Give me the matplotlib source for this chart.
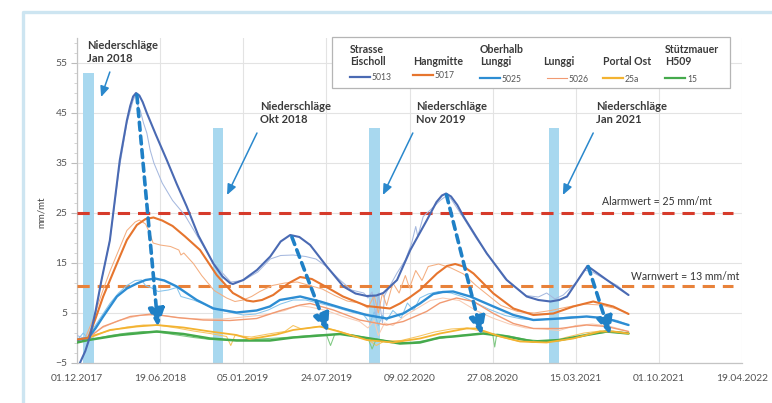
import matplotlib
matplotlib.use('Agg')
import matplotlib.pyplot as plt
from matplotlib.lines import Line2D
from matplotlib.patches import Rectangle

plt.rcParams['font.family'] = ['Lato', 'DejaVu Sans']

W, H = 772, 403

# ---------------- data ----------------
x_tick_days = [0, 200, 400, 600, 800, 1000, 1200, 1400, 1600]
x_tick_labels = ['01.12.2017', '19.06.2018', '05.01.2019', '24.07.2019', '09.02.2020',
                 '27.08.2020', '15.03.2021', '01.10.2021', '19.04.2022']
y_ticks = [-5, 5, 15, 25, 35, 45, 55]

rain_days = [28, 339, 716, 1148]
rain_values = [53, 42, 42, 42]
rain_labels = ['Niederschläge\nJan 2018', 'Niederschläge\nOkt 2018',
               'Niederschläge\nNov 2019', 'Niederschläge\nJan 2021']

alarm_value = 25
warn_value = 10.4
alarm_label = 'Alarmwert = 25 mm/mt'
warn_label = 'Warnwert = 13 mm/mt'

series_titles = ['Strasse\nEischoll', 'Hangmitte', 'Oberhalb\nLunggi', 'Lunggi', 'Portal Ost', 'Stützmauer\nH509']
series_codes = ['5013', '5017', '5025', '5026', '25a', '15']

# smooth (fitted) curves
d5013 = [7, 20, 31, 45, 59, 79, 103, 120, 128, 135, 142, 150, 158, 168, 190, 216, 240, 264, 292, 328, 350, 368,
         375, 400, 433, 465, 490, 513, 535, 561, 601, 641, 670, 697, 720, 737, 770, 802, 842, 865, 878, 888,
         900, 915, 930, 960, 986, 1034, 1082, 1110, 1139, 1160, 1179, 1211, 1228, 1250, 1275, 1327]
v5013 = [-5, -2.6, 0.2, 5.5, 11.6, 19.5, 35.6, 43.5, 46.4, 48.3, 49.0, 48.5, 47.2, 45.0, 40.6, 35.6, 30.8,
         26.3, 20.5, 14.9, 12.3, 11.0, 10.8, 11.6, 13.6, 16.3, 19.3, 20.6, 20.2, 18.6, 14.3, 10.3, 8.9, 8.4,
         8.5, 9.0, 11.6, 17.6, 23.6, 27.2, 28.5, 28.9, 28.3, 26.6, 24.3, 20.3, 16.9, 11.6, 8.3, 7.6, 7.3, 7.6,
         8.3, 12.3, 14.4, 13.1, 11.6, 8.6]

d5017 = [0, 27, 45, 63, 96, 120, 144, 165, 184, 205, 230, 260, 296, 336, 375, 408, 424, 445, 472, 510, 537, 565,
         600, 640, 697, 753, 777, 800, 825, 866, 890, 910, 930, 954, 1002, 1050, 1098, 1146, 1194, 1242, 1290,
         1327]
v5017 = [-0.3, 0.0, 4.0, 8.3, 14.9, 19.6, 22.6, 23.8, 24.1, 23.5, 22.4, 20.3, 17.6, 12.6, 9.0, 7.5, 7.3, 7.6,
         8.6, 11.0, 12.2, 11.8, 10.2, 8.3, 6.4, 5.9, 6.9, 8.1, 9.6, 12.9, 14.4, 14.8, 14.3, 12.9, 8.9, 5.9, 4.6,
         4.9, 6.3, 7.3, 6.3, 4.8]

d5025 = [0, 27, 45, 63, 96, 120, 144, 165, 188, 210, 240, 288, 328, 384, 432, 464, 488, 537, 585, 641, 697,
         745, 785, 825, 857, 880, 905, 946, 1002, 1050, 1098, 1162, 1226, 1274, 1327]
v5025 = [-0.4, 0.0, 2.0, 4.3, 8.3, 9.9, 10.9, 11.6, 11.9, 11.5, 10.3, 7.6, 5.9, 5.1, 5.5, 6.3, 7.6, 8.3, 7.3,
         5.9, 4.6, 3.9, 4.9, 6.9, 8.8, 9.2, 9.3, 8.3, 6.3, 4.6, 3.6, 3.9, 4.3, 3.9, 2.6]

d5026 = [0, 27, 63, 128, 180, 240, 304, 368, 432, 490, 537, 561, 617, 680, 745, 785, 841, 873, 913, 954,
         1002, 1050, 1098, 1162, 1226, 1274, 1327]
v5026 = [-0.5, 0.0, 2.3, 4.3, 4.8, 4.1, 3.6, 3.5, 3.9, 5.5, 6.6, 6.9, 5.6, 3.6, 2.6, 3.3, 5.3, 7.0, 8.0, 7.3,
         4.9, 2.9, 1.9, 1.9, 2.6, 2.3, 1.3]

d25a = [0, 27, 79, 144, 192, 256, 320, 384, 415, 440, 480, 520, 585, 630, 697, 760, 825, 873, 937, 961,
        1018, 1066, 1130, 1194, 1258, 1290, 1327]
v25a = [-0.4, 0.0, 1.6, 2.3, 2.6, 2.1, 1.3, 0.6, -0.2, 0.1, 0.7, 1.6, 2.3, 1.3, -0.4, -0.9, -0.1, 0.9, 1.9,
        1.9, 0.3, -0.7, -0.9, -0.1, 1.3, 1.3, 0.9]

d15 = [0, 27, 103, 192, 256, 320, 384, 464, 520, 633, 705, 777, 825, 873, 905, 977, 1034, 1098, 1162, 1226,
       1274, 1327]
v15 = [-0.9, -0.4, 0.6, 1.3, 0.8, -0.1, -0.5, -0.5, 0.1, 0.8, -0.1, -1.1, -0.9, 0.1, 0.3, 0.9, 0.3, -0.7,
       -0.4, 0.6, 1.3, 0.9]

# measured (raw) values
m5013_d = [0, 15, 28, 45, 60, 80, 100, 120, 135, 142, 148, 152, 160, 168, 176, 185, 195, 205, 230, 260, 290,
           330, 370, 400, 435, 465, 490, 520, 550, 575, 600, 630, 660, 690, 700, 710, 720, 725, 735, 740, 750,
           770, 790, 805, 815, 820, 833, 850, 875, 890, 900, 930, 960, 990, 1030, 1080, 1110, 1130, 1150,
           1170, 1200, 1220, 1240, 1270, 1300, 1327]
m5013_v = [0.5, 0.0, 0.3, 5, 12, 20, 33, 43, 47.5, 48.8, 46, 45.6, 43, 41, 37.6, 35, 33, 31, 27.5, 24.5, 20.3,
           14.8, 11.2, 11.5, 13.2, 15.8, 16.5, 16.6, 16.3, 15.8, 14.3, 11.8, 9.6, 9.0, 8.0, 9.2, 4.0, 9.0, 3.0,
           8.5, 10.0, 13.0, 15.6, 18.9, 22.3, 20.3, 24.3, 25.6, 27.6, 28.5, 27.8, 24.0, 20.0, 16.5, 11.8, 8.5,
           8.2, 9.0, 7.8, 8.6, 11.0, 13.6, 13.2, 11.8, 10.5, 8.6]

m5017_d = [0, 20, 40, 60, 80, 100, 120, 140, 150, 165, 175, 183, 200, 225, 245, 250, 257, 280, 300, 330, 360,
           380, 400, 420, 440, 470, 500, 530, 560, 590, 620, 650, 680, 700, 715, 725, 735, 745, 760, 775, 790,
           800, 815, 830, 845, 870, 900, 930, 960, 990, 1020, 1060, 1100, 1140, 1180, 1220, 1260, 1300, 1327]
m5017_v = [-0.3, 0.0, 4, 9, 13.5, 17.5, 21.5, 23.2, 23.6, 22.8, 21, 19, 18.6, 18.3, 17.6, 16.6, 17, 14.9, 12.5,
           9.5, 8.0, 7.3, 7.6, 8.3, 9.3, 10.5, 11.0, 11.2, 10.5, 9.8, 8.5, 7.4, 7.0, 6.0, 8.5, 5.0, 9.0, 6.5,
           11.0, 9.0, 12.5, 10.0, 13.5, 11.5, 14.3, 14.8, 14.0, 12.8, 10.5, 8.5, 6.5, 5.3, 5.0, 5.5, 6.2, 6.8,
           6.6, 5.8, 4.9]

m5025_d = [0, 15, 25, 40, 60, 80, 100, 120, 140, 155, 165, 180, 195, 220, 240, 250, 280, 320, 360, 400, 430,
           460, 490, 520, 550, 580, 620, 660, 690, 705, 715, 725, 735, 745, 760, 780, 795, 810, 825, 845, 870,
           900, 930, 960, 990, 1030, 1070, 1110, 1150, 1190, 1230, 1270, 1300, 1327]
m5025_v = [-0.5, 1.0, 0.0, 2.0, 4.5, 7.0, 9.0, 10.5, 11.5, 11.6, 10.5, 10.0, 9.3, 9.6, 10.1, 8.3, 7.6, 6.3,
           5.3, 4.6, 4.8, 5.6, 6.8, 7.6, 7.6, 7.0, 6.2, 5.2, 4.6, 3.0, 5.2, 2.5, 4.5, 3.5, 5.5, 4.0, 7.0, 5.5,
           8.0, 8.8, 9.3, 9.0, 8.2, 7.0, 5.8, 4.5, 3.8, 3.6, 3.9, 4.3, 4.3, 4.0, 3.5, 2.6]

m5026_d = [0, 30, 60, 100, 150, 200, 250, 300, 350, 400, 450, 500, 530, 560, 600, 640, 680, 700, 715, 725, 740,
           760, 790, 820, 850, 880, 920, 960, 1000, 1040, 1080, 1120, 1160, 1200, 1240, 1280, 1327]
m5026_v = [-0.5, 0.3, 2.0, 3.5, 4.5, 4.6, 4.0, 3.8, 3.8, 4.2, 4.6, 5.5, 6.5, 6.2, 5.5, 4.3, 3.3, 2.0, 3.5, 0.5,
           3.0, 2.5, 4.5, 6.0, 7.5, 8.0, 7.5, 5.5, 4.0, 2.8, 2.0, 1.8, 1.5, 2.5, 2.8, 2.4, 1.3]

m25a_d = [0, 40, 80, 120, 160, 200, 240, 280, 320, 360, 370, 380, 420, 460, 500, 520, 540, 580, 620, 660, 700,
          720, 740, 780, 820, 860, 900, 940, 980, 1020, 1060, 1100, 1140, 1180, 1220, 1260, 1300, 1327]
m25a_v = [-0.5, 0.6, 1.5, 2.2, 2.6, 2.5, 2.0, 1.4, 0.9, 0.3, -1.5, 0.5, 0.2, 0.8, 1.3, 2.5, 1.8, 2.3, 1.6, 0.6,
          -0.3, -1.5, -0.6, -0.5, 0.3, 1.2, 1.8, 2.0, 1.2, 0.2, -0.6, -0.8, -0.7, 0.2, 1.0, 1.4, 1.3, 0.9]

m15_d = [0, 40, 80, 120, 160, 200, 240, 280, 320, 360, 400, 440, 480, 520, 560, 600, 610, 620, 660, 700, 710,
         720, 760, 800, 840, 880, 920, 960, 1000, 1005, 1010, 1040, 1080, 1120, 1160, 1200, 1240, 1280, 1327]
m15_v = [-0.9, -0.2, 0.5, 1.0, 1.3, 1.1, 0.6, 0.1, -0.3, -0.4, -0.4, -0.2, 0.0, 0.2, 0.5, 0.7, -1.5, 0.7, 0.7,
         0.0, -2.2, -0.2, -0.8, -1.0, -0.5, 0.0, 0.5, 0.8, 0.9, -1.8, 0.8, 0.4, -0.3, -0.6, -0.5, 0.1, 0.8,
         1.2, 0.9]

# trend arrows (start day/value -> end day/value)
trend_start_d = [144, 517, 889, 1230]
trend_start_v = [48.6, 20.2, 28.6, 14.3]
trend_end_d = [195, 604, 974, 1283]
trend_end_v = [2.2, 1.2, 0.6, 0.6]

# ---------------- style ----------------
c_smooth = ['#4a6ab3', '#e6752e', '#2d8dd3', '#f19a72', '#f3b331', '#45aa4c']
c_meas = ['#a6b9df', '#f4ae80', '#86c4ec', '#f8ccb4', '#f6c460', '#7fc982']
lw_smooth = [1.5, 1.5, 1.7, 1.0, 1.3, 1.8]

fig = plt.figure(figsize=(W / 100, H / 100), dpi=100)
fig.patch.set_facecolor('white')


def fx(x):
    return x / W


def fy(y):
    return 1 - y / H


ax = fig.add_axes([fx(77), 40 / H, 665 / W, 325 / H])
ax.set_xlim(0, 1600)
ax.set_ylim(-5, 60)

ax.set_xticks(x_tick_days)
ax.set_xticklabels(x_tick_labels)
ax.set_yticks(y_ticks)
ax.set_yticks([v for v in range(-5, 60, 2)], minor=True)
ax.tick_params(axis='x', length=0, pad=8, labelsize=7.4, labelcolor='#555555')
ax.tick_params(axis='y', which='major', length=4, width=0.8, color='#bbbbbb', pad=3, labelsize=7.4,
               labelcolor='#555555')
ax.tick_params(axis='y', which='minor', length=2, width=0.6, color='#cccccc')
ax.grid(True, which='major', color='#e3e3e3', lw=0.8, zorder=0)
ax.set_axisbelow(True)
for s in ['top', 'right']:
    ax.spines[s].set_visible(False)
for s in ['left', 'bottom']:
    ax.spines[s].set_color('#c4c4c4')
    ax.spines[s].set_linewidth(0.9)

# precipitation bars
ax.bar(rain_days, [v + 5 for v in rain_values], bottom=-5, width=25, color='#a8d8ef', zorder=1)

# thresholds
ax.plot([0, 1578], [alarm_value, alarm_value], color='#d63b2b', lw=2.2, ls=(0, (4, 2.6)), zorder=3)
ax.plot([0, 1578], [warn_value, warn_value], color='#e8823a', lw=2.2, ls=(0, (4, 2.6)), zorder=3)
ax.text(1263, alarm_value + 2.3, alarm_label, fontsize=7.6, color='#333333', va='center', ha='left')
ax.text(1333, warn_value + 1.8, warn_label, fontsize=7.6, color='#333333', va='center', ha='left')

# measured
meas = [(m5013_d, m5013_v), (m5017_d, m5017_v), (m5025_d, m5025_v), (m5026_d, m5026_v),
        (m25a_d, m25a_v), (m15_d, m15_v)]
for (dd, vv), c in zip(meas, c_meas):
    ax.plot(dd, vv, color=c, lw=0.75, zorder=4)

# smooth
smooth = [(d5013, v5013), (d5017, v5017), (d5025, v5025), (d5026, v5026), (d25a, v25a), (d15, v15)]
order = [5, 4, 3, 2, 1, 0]
for i in order:
    dd, vv = smooth[i]
    ax.plot(dd, vv, color=c_smooth[i], lw=lw_smooth[i], zorder=5, solid_capstyle='round',
            solid_joinstyle='round')

# trend arrows
for sd, sv, ed, ev in zip(trend_start_d, trend_start_v, trend_end_d, trend_end_v):
    ax.annotate('', xy=(ed, ev), xytext=(sd, sv), zorder=7,
                arrowprops=dict(arrowstyle='-|>,head_length=0.9,head_width=0.4', color='#1f80c6',
                                lw=2.6, linestyle=(0, (2.2, 1.6)), shrinkA=0, shrinkB=0,
                                mutation_scale=12))

# precipitation labels
rain_text_pos = [(24, 59.6), (440, 47.4), (816, 47.4), (1249, 47.4)]
rain_arrow_start = [(79, 53.2), (433, 41.0), (808, 41.0), (1242, 41.0)]
rain_arrow_end = [(58, 48.2), (361, 28.6), (736, 28.6), (1169, 28.6)]
for lab, tp, a0, a1 in zip(rain_labels, rain_text_pos, rain_arrow_start, rain_arrow_end):
    ax.text(tp[0], tp[1], lab, fontsize=8, fontweight='bold', color='#3a3a3a', va='top', ha='left',
            linespacing=1.25, zorder=8, clip_on=False)
    ax.annotate('', xy=a1, xytext=a0, zorder=8,
                arrowprops=dict(arrowstyle='-|>,head_length=0.7,head_width=0.3', color='#2a88cc',
                                lw=1.1, shrinkA=0, shrinkB=0, mutation_scale=9))

# y label
fig.text(fx(41), fy(212), 'mm/mt', rotation=90, fontsize=7, color='#444444', va='center', ha='center')

# legend box
fig.add_artist(Rectangle((fx(332), fy(88)), fx(730) - fx(332), fy(37) - fy(88), transform=fig.transFigure,
                         facecolor='white', edgecolor='#b5b5b5', lw=0.9, zorder=20))
leg_x = [350, 413, 480, 543, 603, 665]
leg_line_x0 = [350, 413, 480, 547, 603, 665]
leg_line_y = [77, 75, 78, 78, 78, 78]
for i in range(6):
    fig.text(fx(leg_x[i]), fy(67), series_titles[i], fontsize=7.6, fontweight='bold', color='#3a3a3a',
             va='bottom', ha='left', linespacing=1.15, zorder=21)
    fig.add_artist(Line2D([fx(leg_line_x0[i]), fx(leg_line_x0[i] + 20)], [fy(leg_line_y[i])] * 2,
                          transform=fig.transFigure, color=c_smooth[i],
                          lw=1.6 if i != 3 else 0.8, zorder=21))
    fig.text(fx(leg_line_x0[i] + 22), fy(leg_line_y[i] + 1), series_codes[i], fontsize=6.2, color='#555555',
             va='center', ha='left', zorder=21)

# outer frame
fig.add_artist(Line2D([fx(23), fx(23), 1.0], [0.0, fy(12), fy(12)], transform=fig.transFigure,
                      color='#cde5f1', lw=2.4, zorder=0))

fig.savefig('out.png', dpi=100)
